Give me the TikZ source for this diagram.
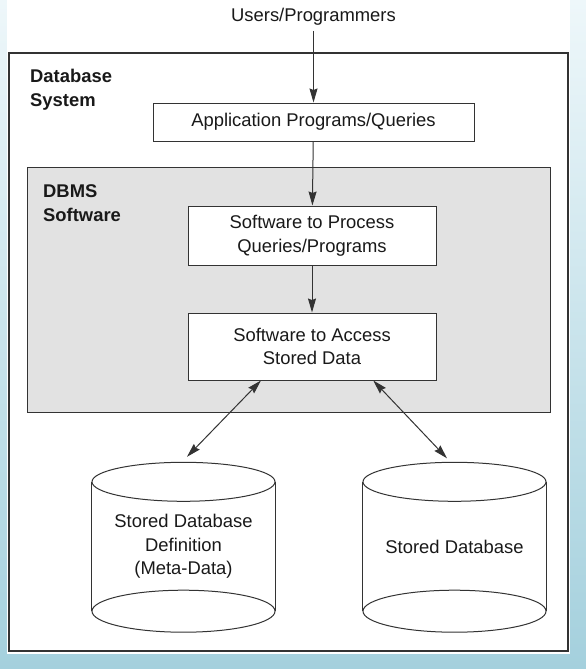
\documentclass[tikz,border=0pt]{standalone}
\usepackage{fontspec}
\setmainfont{Liberation Sans}
\usetikzlibrary{arrows.meta,calc}
\definecolor{lin}{HTML}{333333}
\definecolor{graybg}{HTML}{E2E2E2}
\definecolor{bgtop}{HTML}{EEF7FA}
\definecolor{bgbot}{HTML}{A4D0DD}
\tikzset{
  txt/.style={font=\fontsize{18.4}{23.5}\selectfont, text=black!90, align=center, inner sep=0pt},
  lbl/.style={font=\bfseries\fontsize{18.4}{24}\selectfont, text=black!90, align=left, inner sep=0pt},
  procbox/.style={txt, draw=lin, line width=1pt, fill=white},
  cylbody/.style={txt, minimum width=183pt, minimum height=129pt},
  cylline/.style={draw=lin, line width=1pt},
  arr/.style={draw=lin, line width=1pt, -{Stealth[length=14pt,width=8pt,inset=1.5pt]}},
  darr/.style={draw=lin, line width=1pt, {Stealth[length=14pt,width=8pt,inset=1.5pt]}-{Stealth[length=14pt,width=8pt,inset=1.5pt]}},
}
\begin{document}
\begin{tikzpicture}[x=1pt,y=-1pt]
\useasboundingbox (0,0) rectangle (586,669);
\shade[top color=bgtop, bottom color=bgbot] (0,0) rectangle (586,669);
\fill[white] (7,0) rectangle (570,654);
% outer system box
\draw[draw=lin, line width=1.5pt] (9,53) rectangle (568,651);
% DBMS gray box
\draw[draw=lin, line width=1pt, fill=graybg] (27,167) rectangle (550,412);
% labels
\node[lbl, anchor=north west] (dbsys) at (30,68.5) {Database\\System};
\node[lbl, anchor=north west] (dbms) at (43,184.5) {DBMS\\Software};
% nodes
\node[txt] (users) at (313.5,17) {Users/Programmers};
\node[procbox, minimum width=321pt, minimum height=38pt] (app) at (313.5,122) {Application Programs/Queries};
\node[procbox, minimum width=248pt, minimum height=59pt] (proc) at (312,235.5) {Software to Process\\Queries/Programs};
\node[procbox, minimum width=248pt, minimum height=67pt] (access) at (312,346.5) {Software to Access\\Stored Data};
% cylinders
\node[cylbody] (meta) at (183.5,546.5) {Stored Database\\Definition\\(Meta-Data)};
\node[cylbody] (db) at (454.5,546.5) {Stored Database};
\foreach \c in {meta,db}{
  \draw[cylline] (\c.north west) -- (\c.south west) (\c.north east) -- (\c.south east);
  \draw[cylline] (\c.north) ellipse [x radius=91.5pt, y radius=19.5pt];
  \draw[cylline] (\c.south) ellipse [x radius=91.5pt, y radius=21pt];
}
\coordinate (mt) at ($(meta.north)+(3.5,-25)$);
\coordinate (dt) at ($(db.north)+(-7.5,-23.5)$);
% connectors
\draw[arr, shorten <=5pt] (users) -- (app);
\draw[arr] (app) -- (proc);
\draw[arr] (proc) -- (access);
\draw[darr] ($(access.south west)!0.295!(access.south east)$) -- (mt);
\draw[darr] ($(access.south west)!0.746!(access.south east)$) -- (dt);
\end{tikzpicture}
\end{document}
